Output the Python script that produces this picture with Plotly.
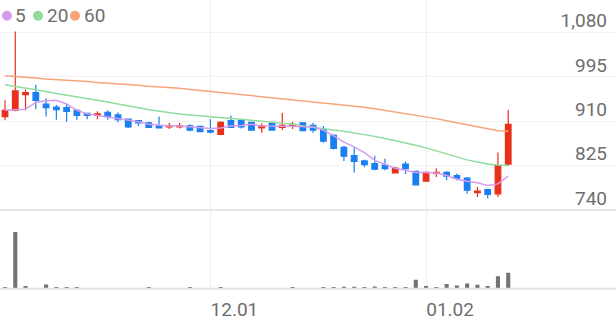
import plotly.graph_objects as go

# ---- data ----
idx = list(range(50))
opens = [919, 931, 961, 965, 943, 937, 936, 931, 925, 922,
         927, 922, 914, 911, 907, 901, 899, 899, 901, 900,
         892, 885, 911, 911, 908, 897, 907, 898, 900, 907,
         902, 894, 883, 860, 844, 834, 829, 826, 811, 828,
         814, 795, 810, 812, 806, 801, 773, 779, 771, 828]
highs = [950, 1082, 971, 980, 954, 941, 943, 933, 926, 929,
         931, 927, 915, 912, 909, 919, 907, 907, 904, 901,
         914, 910, 921, 912, 909, 906, 908, 926, 909, 908,
         907, 901, 885, 863, 860, 836, 844, 838, 823, 833,
         815, 814, 820, 814, 810, 803, 784, 780, 850, 932]
lows = [912, 929, 931, 933, 919, 913, 909, 913, 914, 914,
        913, 908, 897, 901, 897, 896, 895, 896, 891, 889,
        887, 883, 898, 896, 892, 888, 892, 893, 895, 891,
        888, 869, 856, 834, 812, 822, 816, 816, 810, 809,
        787, 794, 803, 797, 797, 771, 765, 762, 765, 825]
closes = [931, 968, 965, 950, 936, 932, 929, 921, 921, 924,
          919, 913, 899, 907, 898, 897, 901, 901, 893, 890,
          889, 908, 898, 899, 893, 901, 893, 902, 904, 892,
          893, 872, 858, 843, 833, 827, 818, 819, 820, 819,
          788, 812, 812, 805, 801, 778, 776, 770, 825, 904]
volumes = [170000, 5760000, 270000, 70000, 430000, 130000, 130000, 130000, 70000, 70000,
           30000, 70000, 70000, 30000, 100000, 30000, 30000, 30000, 100000, 70000,
           70000, 170000, 30000, 30000, 70000, 30000, 70000, 30000, 130000, 30000,
           30000, 130000, 130000, 200000, 200000, 100000, 230000, 100000, 100000, 100000,
           900000, 270000, 130000, 470000, 330000, 530000, 400000, 270000, 1270000, 1630000]
ma5 = [931, 932, 933, 946, 949, 950, 943, 931, 924, 921,
       918, 915, 911, 909, 904, 902, 901, 901, 899, 897,
       896, 897, 901, 902, 904, 901, 901, 901, 901, 900,
       899, 893, 882, 870, 861, 850, 835, 828, 820, 816,
       812, 812, 811, 806, 799, 795, 792, 787, 790, 805]
ma20 = [980, 977, 973, 970, 967, 963, 960, 957, 953, 950,
        947, 943, 940, 936, 932, 929, 926, 924, 922, 920,
        918, 917, 915, 914, 912, 911, 909, 907, 904, 901,
        898, 896, 893, 891, 888, 885, 881, 877, 873, 869,
        864, 859, 853, 847, 841, 836, 832, 828, 826, 825]
ma60 = [997, 996, 994, 993, 991, 990, 988, 987, 986, 984,
        983, 981, 980, 979, 977, 976, 974, 973, 971, 969,
        968, 966, 964, 962, 960, 958, 956, 954, 951, 949,
        947, 945, 944, 942, 940, 937, 934, 931, 928, 925,
        922, 919, 915, 911, 907, 903, 899, 895, 892, 891]
price_ticks = [740, 825, 910, 995, 1080]
date_tick_pos = [20, 41]
date_tick_text = ["12.01", "01.02"]
ma_names = ["5", "20", "60"]
ma_colors = ["#d69bf0", "#8fdc9e", "#f7a37b"]

UP = "#e8301a"
DOWN = "#1a7ff0"
TXT = "#6e6e6e"
W, H = 616, 321
price_bottom = 1 - 213.3 / H
vol_bottom = 1 - 293.3 / H

fig = go.Figure()
for vals, name, col in zip([ma60, ma20, ma5], ma_names[::-1], ma_colors[::-1]):
    fig.add_trace(go.Scatter(x=idx, y=vals, mode="lines", name=name,
                             line=dict(color=col, width=1.5), showlegend=False,
                             xaxis="x", yaxis="y"))
fig.add_trace(go.Candlestick(
    x=idx, open=opens, high=highs, low=lows, close=closes,
    increasing=dict(line=dict(color=UP, width=1.2), fillcolor=UP),
    decreasing=dict(line=dict(color=DOWN, width=1.2), fillcolor=DOWN),
    whiskerwidth=0, showlegend=False, xaxis="x", yaxis="y"))
fig.add_trace(go.Bar(x=idx, y=volumes, marker=dict(color="#737373", line=dict(width=0)),
                     width=0.4, showlegend=False, xaxis="x2", yaxis="y2"))

xr = [-5 / 10.27, (W - 5) / 10.27]

# legend: coloured dots + labels (pixel positions of the reference legend)
dot_cx = [7, 38, 75]
label_x = [13, 45, 82]
legend_y = 1 - 16 / H
shapes = [
    dict(type="line", xref="paper", yref="paper", x0=0, x1=1, y0=price_bottom, y1=price_bottom,
         line=dict(color="#e6e6e6", width=2)),
    dict(type="line", xref="paper", yref="paper", x0=0, x1=1, y0=vol_bottom, y1=vol_bottom,
         line=dict(color="#e3e3e3", width=2)),
]
annotations = []
for cx, lx, n, c in zip(dot_cx, label_x, ma_names, ma_colors):
    shapes.append(dict(type="circle", xref="paper", yref="paper",
                       x0=(cx - 5) / W, x1=(cx + 5) / W, y0=legend_y - 5 / H, y1=legend_y + 5 / H,
                       fillcolor=c, line=dict(width=0)))
    annotations.append(dict(xref="paper", yref="paper", x=lx / W, y=legend_y,
                            xanchor="left", yanchor="middle", showarrow=False, text=n,
                            font=dict(size=19, color=TXT, family="Roboto")))

fig.update_layout(
    width=W, height=H, margin=dict(l=0, r=0, t=0, b=0),
    paper_bgcolor="white", plot_bgcolor="white",
    boxgap=0.22, boxgroupgap=0.3,
    font=dict(family="Roboto", color=TXT),
    xaxis=dict(domain=[0, 1], anchor="y", range=xr, tickvals=date_tick_pos,
               showticklabels=False, showgrid=True, gridcolor="#efefef", gridwidth=1,
               zeroline=False, rangeslider=dict(visible=False), fixedrange=True),
    xaxis2=dict(domain=[0, 1], anchor="y2", range=xr, matches="x", tickvals=date_tick_pos,
                ticktext=date_tick_text, showgrid=True, gridcolor="#efefef",
                zeroline=False, ticks="", tickfont=dict(size=19, color=TXT),
                ticklabelshift=24, ticklabelstandoff=7),
    yaxis=dict(domain=[price_bottom, 1], anchor="x", side="right",
               range=[740, 1080 + 33 * 340 / 180.3],
               tickvals=price_ticks, tickformat=",", ticklabelposition="inside",
               ticklabelshift=-12, ticklabelstandoff=6,
               tickfont=dict(size=19, color=TXT),
               showgrid=True, gridcolor="#f3f3f3", zeroline=False, ticks=""),
    yaxis2=dict(domain=[vol_bottom, price_bottom], anchor="x2", range=[0, 8000000],
                showticklabels=False, showgrid=False, zeroline=False),
    shapes=shapes,
    annotations=annotations,
)
fig.write_html("out.html")
